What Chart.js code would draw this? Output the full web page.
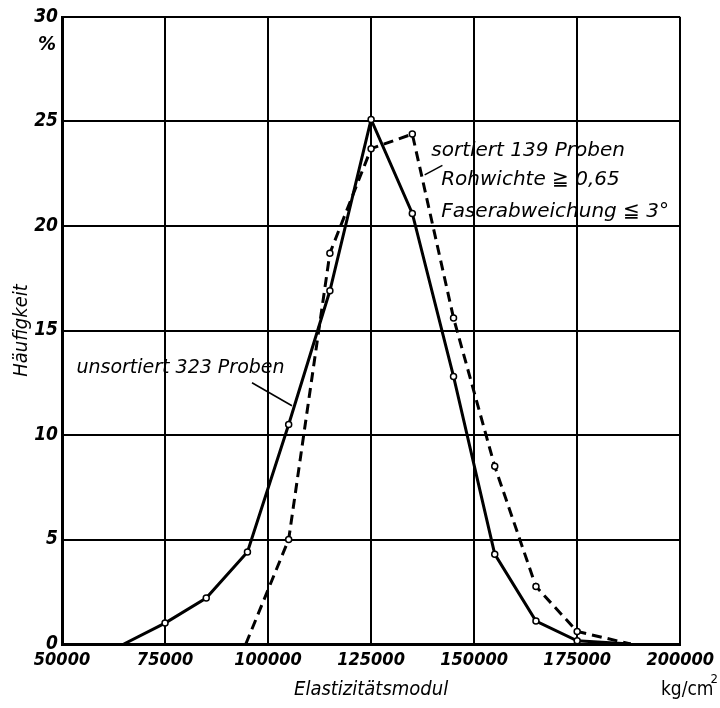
<!DOCTYPE html>
<html>
<head>
<meta charset="utf-8">
<script src="https://cdn.jsdelivr.net/npm/chart.js@4/dist/chart.umd.min.js"></script>
<style>
  html, body { margin: 0; padding: 0; background: #fff; }
  #wrap { width: 720px; height: 708px; }
</style>
</head>
<body>
<div id="wrap"><canvas id="chart"></canvas></div>
<script>
// Elastizitätsmodul (kg/cm²) vs Häufigkeit (%)
const unsortiertX = [65000, 75000, 85000, 95000, 105000, 115000, 125000, 135000, 145000, 155000, 165000, 175000, 188000]
const unsortiertY = [0, 1.0, 2.2, 4.4, 10.5, 16.9, 25.1, 20.6, 12.8, 4.3, 1.1, 0.15, 0]
const sortiertX = [94600, 105000, 115000, 125000, 135000, 145000, 155000, 165000, 175000, 188000]
const sortiertY = [0, 5.0, 18.7, 23.7, 24.4, 15.6, 8.5, 2.75, 0.6, 0]

const xTicks = [50000, 75000, 100000, 125000, 150000, 175000, 200000]
const yTicks = [0, 5, 10, 15, 20, 25, 30]

const FONT = "'DejaVu Sans Condensed', 'DejaVu Sans', sans-serif"
const NOTE_FONT = "'DejaVu Sans', sans-serif"

// text notes, anchored in data units
const notes = [
  { text: 'sortiert 139 Proben', x: 139600, y: 23.6, size: 20 },
  { text: 'Rohwichte \u2267 0,65', x: 142000, y: 22.2, size: 20 },
  { text: 'Faserabweichung \u2266 3°', x: 142000, y: 20.7, size: 20 },
  { text: 'unsortiert 323 Proben', x: 53500, y: 13.2, size: 19 }
]
const leaders = [
  [[142300, 22.9], [138000, 22.45]],
  [[96100, 12.5], [105800, 11.4]]
]

const toPts = (xs, ys) => xs.map((x, i) => ({ x, y: ys[i] }))
const endsHidden = n => Array.from({ length: n }, (_, i) => (i === 0 || i === n - 1) ? 0 : 3)

const notesPlugin = {
  id: 'notes',
  afterDraw(chart) {
    const { ctx, scales: { x, y } } = chart
    ctx.save()
    ctx.fillStyle = '#000'
    ctx.textBaseline = 'middle'
    ctx.textAlign = 'left'
    notes.forEach(n => {
      ctx.font = 'italic ' + n.size + 'px ' + NOTE_FONT
      ctx.fillText(n.text, x.getPixelForValue(n.x), y.getPixelForValue(n.y))
    })
    ctx.strokeStyle = '#000'
    ctx.lineWidth = 1.5
    leaders.forEach(([a, b]) => {
      ctx.beginPath()
      ctx.moveTo(x.getPixelForValue(a[0]), y.getPixelForValue(a[1]))
      ctx.lineTo(x.getPixelForValue(b[0]), y.getPixelForValue(b[1]))
      ctx.stroke()
    })
    // unit labels
    ctx.font = "bold italic 20px " + FONT
    ctx.textAlign = 'center'
    ctx.fillText('%', x.left - 15, y.getPixelForValue(30) + 28)
    ctx.font = "19px " + FONT
    ctx.fillText('kg/cm', x.right + 7, 690)
    ctx.font = "13px " + FONT
    ctx.fillText('2', x.right + 34, 680)
    ctx.restore()
  }
}

new Chart(document.getElementById('chart'), {
  type: 'line',
  data: {
    datasets: [
      {
        label: 'unsortiert 323 Proben',
        data: toPts(unsortiertX, unsortiertY),
        borderColor: '#000',
        borderWidth: 3,
        pointRadius: endsHidden(unsortiertX.length),
        pointBackgroundColor: '#fff',
        pointBorderColor: '#000',
        pointBorderWidth: 1.5,
        tension: 0
      },
      {
        label: 'sortiert 139 Proben',
        data: toPts(sortiertX, sortiertY),
        borderColor: '#000',
        borderWidth: 3,
        borderDash: [10, 6],
        pointRadius: endsHidden(sortiertX.length),
        pointBackgroundColor: '#fff',
        pointBorderColor: '#000',
        pointBorderWidth: 1.5,
        tension: 0
      }
    ]
  },
  options: {
    responsive: true,
    maintainAspectRatio: false,
    animation: false,
    layout: { padding: { top: 17, right: 35, left: 0, bottom: 0 } },
    plugins: { legend: { display: false }, tooltip: { enabled: false } },
    scales: {
      x: {
        type: 'linear',
        min: 50000,
        max: 200000,
        afterBuildTicks: s => { s.ticks = xTicks.map(v => ({ value: v })) },
        afterFit: s => { s.height = 64 },
        ticks: {
          color: '#000',
          padding: 6,
          maxRotation: 0,
          font: { family: FONT, size: 18, style: 'italic', weight: 'bold' },
          callback: v => String(v)
        },
        grid: { color: '#000', lineWidth: 2, drawTicks: false },
        border: { color: '#000', width: 3 },
        title: {
          display: true,
          text: 'Elastizitätsmodul',
          color: '#000',
          padding: { top: 0, bottom: 6 },
          font: { family: FONT, size: 20, style: 'italic' }
        }
      },
      y: {
        type: 'linear',
        min: 0,
        max: 30,
        afterBuildTicks: s => { s.ticks = yTicks.map(v => ({ value: v })) },
        afterFit: s => { s.width = 62 },
        ticks: {
          color: '#000',
          padding: 4,
          font: { family: FONT, size: 19, style: 'italic', weight: 'bold' }
        },
        grid: { color: '#000', lineWidth: 2, drawTicks: false },
        border: { color: '#000', width: 3 },
        title: {
          display: true,
          text: 'Häufigkeit',
          color: '#000',
          padding: { top: 10, bottom: 0 },
          font: { family: FONT, size: 20, style: 'italic' }
        }
      }
    }
  },
  plugins: [notesPlugin]
})
</script>
</body>
</html>
